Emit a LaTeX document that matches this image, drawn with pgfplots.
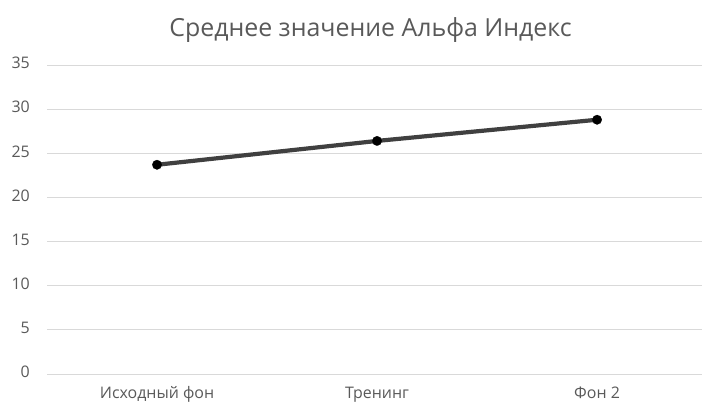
\documentclass[border=0pt]{standalone}
\usepackage{pgfplots}
\pgfplotsset{compat=1.18}
\usepackage{fontspec}
\setmainfont{Open Sans}
\definecolor{txtgray}{RGB}{89,89,89}
\definecolor{gridgray}{RGB}{217,217,217}
\definecolor{linegray}{RGB}{64,64,64}
\begin{document}
\begin{tikzpicture}[x=1bp,y=1bp]
\useasboundingbox (0,0) rectangle (703,403);
\begin{axis}[
  at={(47bp,29bp)}, anchor=south west,
  scale only axis,
  width=655bp, height=309bp,
  xmin=-0.5, xmax=2.477,
  ymin=0, ymax=35,
  ytick={0,5,...,35},
  xtick=data,
  xticklabels={Исходный фон, Тренинг, Фон 2},
  axis line style={draw=none},
  major tick length=0pt,
  ymajorgrids,
  grid style={gridgray, line width=1bp},
  tick label style={font=\fontsize{16}{19}\selectfont, text=txtgray, inner sep=0pt},
  yticklabel style={anchor=east, xshift=-17bp},
  xticklabel style={anchor=base, yshift=-24bp},
  typeset ticklabels with strut,
  /pgf/number format/assume math mode=true,
  title={Среднее значение Альфа Индекс},
  title style={font=\fontsize{25}{29}\selectfont, text=txtgray, at={(0.5,1)}, anchor=base, yshift=23bp, xshift=-4bp, inner sep=0pt},
  clip=false,
]
\addplot[linegray, line width=4.2bp, mark=*, mark size=4.8bp, mark options={fill=black, draw=black, line width=0.1bp}]
  coordinates {(0,23.7) (1,26.4) (2,28.8)};
\end{axis}
\end{tikzpicture}
\end{document}
